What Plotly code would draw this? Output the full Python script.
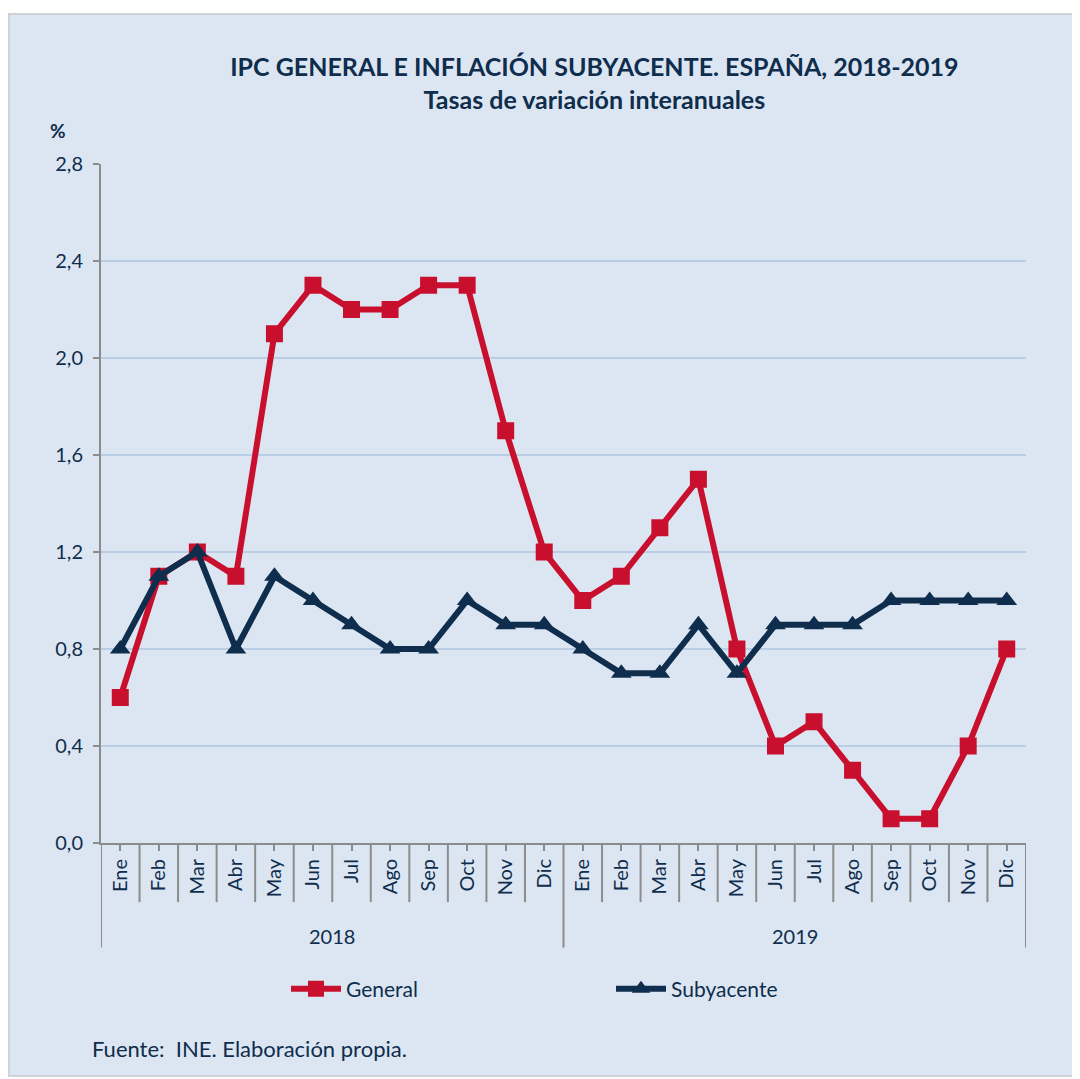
import plotly.graph_objects as go

# Data
months = ["Ene", "Feb", "Mar", "Abr", "May", "Jun", "Jul", "Ago", "Sep", "Oct", "Nov", "Dic"]
years = ["2018", "2019"]
general = [0.6, 1.1, 1.2, 1.1, 2.1, 2.3, 2.2, 2.2, 2.3, 2.3, 1.7, 1.2,
           1.0, 1.1, 1.3, 1.5, 0.8, 0.4, 0.5, 0.3, 0.1, 0.1, 0.4, 0.8]
subyacente = [0.8, 1.1, 1.2, 0.8, 1.1, 1.0, 0.9, 0.8, 0.8, 1.0, 0.9, 0.9,
              0.8, 0.7, 0.7, 0.9, 0.7, 0.9, 0.9, 0.9, 1.0, 1.0, 1.0, 1.0]
y_ticks = [0.0, 0.4, 0.8, 1.2, 1.6, 2.0, 2.4, 2.8]

NAVY = "#0f2d4c"
RED = "#c8102e"
BG = "#dce6f2"
GRID = "#b9cde4"
AXIS = "#8c8c8c"
FONT = "Lato, 'Open Sans', sans-serif"

labels = months * len(years)
xs = list(range(len(labels)))

fig = go.Figure()
fig.add_trace(go.Scatter(
    x=xs, y=general, name="General", mode="lines+markers",
    line=dict(color=RED, width=6),
    marker=dict(symbol="square", size=17, color=RED),
))
fig.add_trace(go.Scatter(
    x=xs, y=subyacente, name="Subyacente", mode="lines+markers",
    line=dict(color=NAVY, width=6),
    marker=dict(symbol="triangle-up", size=18, color=NAVY),
))

shapes = []
# outer light-blue panel
shapes.append(dict(type="rect", xref="paper", yref="paper", layer="below",
                   x0=-0.0995, x1=1.053, y0=-0.343, y1=1.221,
                   fillcolor=BG, line=dict(color="#cfd3d8", width=2)))
# month dividers and year dividers below axis
n = len(labels)
for i in range(n + 1):
    xpos = i - 0.5
    year_edge = (i % len(months) == 0)
    shapes.append(dict(type="line", xref="x", yref="paper",
                       x0=xpos, x1=xpos, y0=0,
                       y1=-0.154 if year_edge else -0.087,
                       line=dict(color=AXIS, width=2)))

annotations = [
    dict(text="%", xref="paper", yref="paper", x=-0.047, y=1.05,
         xanchor="center", yanchor="middle", showarrow=False,
         font=dict(family=FONT, size=19, color=NAVY, weight="bold")),
    dict(text="Fuente:  INE. Elaboración propia.", xref="paper", yref="paper",
         x=-0.012, y=-0.303, xanchor="left", yanchor="middle", showarrow=False,
         font=dict(family=FONT, size=22, color=NAVY)),
]
for k, yr in enumerate(years):
    annotations.append(dict(text=yr, xref="x", yref="paper",
                            x=k * len(months) + (len(months) - 1) / 2, y=-0.137,
                            xanchor="center", yanchor="middle", showarrow=False,
                            font=dict(family=FONT, size=20, color=NAVY)))

fig.update_layout(
    width=1072, height=1071,
    margin=dict(l=93, r=54, t=156, b=236),
    paper_bgcolor="white",
    plot_bgcolor="white",
    separators=",.",
    font=dict(family=FONT, color=NAVY),
    title=dict(
        text="<b>IPC GENERAL E INFLACIÓN SUBYACENTE. ESPAÑA, 2018-2019</b><br><b>Tasas de variación interanuales</b>",
        x=0.547, xanchor="center", y=0.9365, yanchor="middle",
        font=dict(family=FONT, size=25, color=NAVY),
    ),
    xaxis=dict(
        range=[-0.5, n - 0.5], tickmode="array", tickvals=xs, ticktext=labels,
        tickangle=-90, ticks="outside", ticklen=6, tickcolor=AXIS, tickwidth=2,
        showgrid=False, showline=True, linecolor=AXIS, linewidth=2,
        tickfont=dict(family=FONT, size=20, color=NAVY), zeroline=False,
    ),
    yaxis=dict(
        range=[0, 2.8], tickmode="array", tickvals=y_ticks, tickformat=".1f",
        ticks="outside", ticklen=6, tickcolor=AXIS, tickwidth=2,
        showgrid=True, gridcolor=GRID, gridwidth=1.5,
        showline=True, linecolor=AXIS, linewidth=2, zeroline=False,
        tickfont=dict(family=FONT, size=20, color=NAVY), ticklabelstandoff=6,
    ),
    legend=dict(
        orientation="h", x=0.2, y=-0.215, xanchor="left", yanchor="middle",
        bgcolor="rgba(0,0,0,0)", entrywidth=260, entrywidthmode="pixels",
        itemwidth=50,
        font=dict(family=FONT, size=21, color=NAVY),
    ),
    shapes=shapes,
    annotations=annotations,
)

fig.write_html("out.html")
